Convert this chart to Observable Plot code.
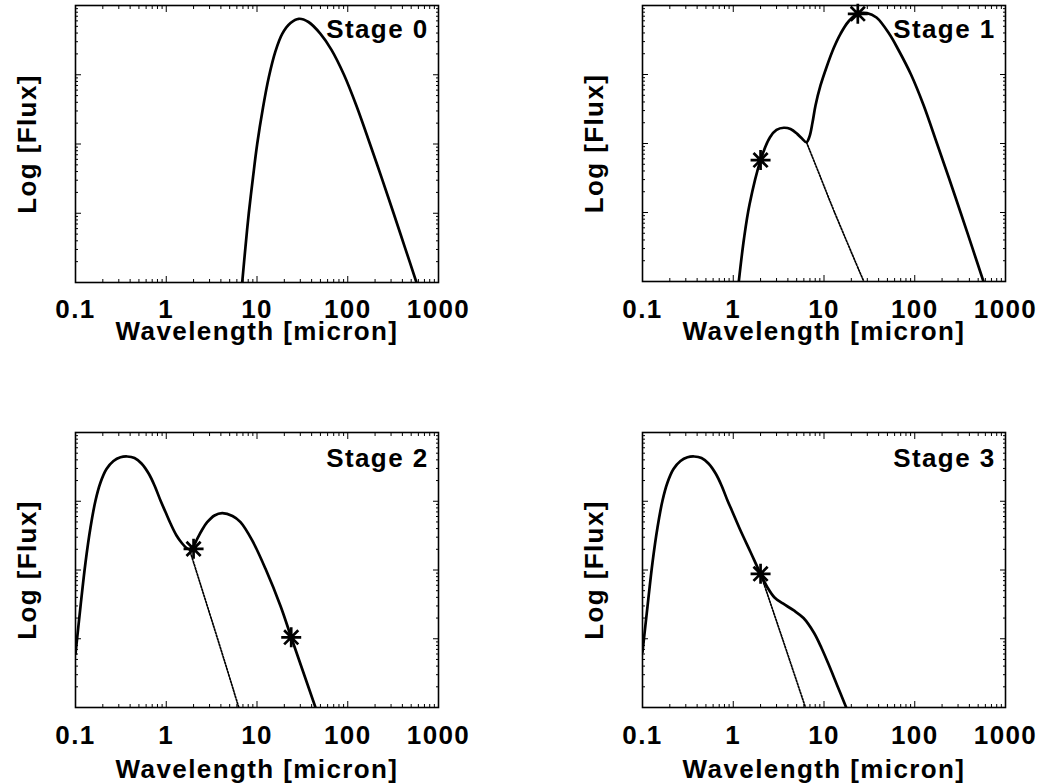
<!DOCTYPE html>
<html>
<head>
<meta charset="utf-8">
<script src="https://cdn.jsdelivr.net/npm/d3@7"></script>
<script src="https://cdn.jsdelivr.net/npm/@observablehq/plot@0.6"></script>
<style>
  html, body { margin: 0; padding: 0; background: #fff; }
  #chart { position: relative; width: 1041px; height: 784px; overflow: hidden; background: #fff; }
  #chart svg { position: absolute; }
  #chart svg text { letter-spacing: 1.4px; }
</style>
</head>
<body>
<div id="chart"></div>
<script>
// ---------- axis text and ticks ----------
const xTickValues = [0.1, 1, 10, 100, 1000];
const xTickLabels = ["0.1", "1", "10", "100", "1000"];
const xMinorTicks = [0.2,0.3,0.4,0.5,0.6,0.7,0.8,0.9, 2,3,4,5,6,7,8,9, 20,30,40,50,60,70,80,90, 200,300,400,500,600,700,800,900];
const yMajorTicks = [10, 100, 1000];
const yMinorTicks = [2,3,4,5,6,7,8,9, 20,30,40,50,60,70,80,90, 200,300,400,500,600,700,800,900, 2000,3000,4000,5000,6000,7000,8000,9000];
const xTitle = "Wavelength [micron]";
const yTitle = "Log [Flux]";
const stageLabels = ["Stage 0", "Stage 1", "Stage 2", "Stage 3"];

// ---------- Stage 0 ----------
const stage0Wave = [6.87, 7.47, 8.12, 9.03, 10.05, 11.65, 13.49, 15.99, 18.96, 23.39, 28.88, 36.94, 50.08, 66.2, 90.9, 124.9, 175.8, 237, 320, 428, 572];
const stage0Flux = [1, 3.31, 10, 32.8, 100, 337, 919, 2188, 3899, 5590, 6427, 5781, 3899, 2291, 1000, 354, 100, 32.1, 10, 3.17, 1];

// ---------- Stage 1 ----------
const stage1Wave = [1.151, 1.314, 1.511, 2.0, 2.541, 2.997, 3.606, 4.275, 5.067, 5.65, 6.414, 6.92, 7.47, 8.06, 9.15, 10.66, 12.73, 15.2, 18.62, 23.58, 29.77, 37.88, 52.3, 66.2, 90.9, 124.9, 175.8, 237, 320, 428, 572];
const stage1Flux = [1, 4.2, 13.06, 57.5, 123, 157, 169, 162, 138, 120, 104.4, 126, 201, 355, 693, 1276, 2382, 3890, 5866, 7586, 7762, 6699, 3890, 2265, 1000, 361, 100, 32.1, 10, 3.17, 1];
const stage1DotWave = [6.414, 9.15, 12.82, 27.46];
const stage1DotFlux = [104.4, 32.5, 10.7, 1];
const stage1StarWave = [2.0, 23.58];
const stage1StarFlux = [57.5, 7586];

// ---------- Stage 2 ----------
const stage2Wave = [0.1, 0.1135, 0.1289, 0.1463, 0.1662, 0.1886, 0.2196, 0.2622, 0.3131, 0.3712, 0.4468, 0.5337, 0.6423, 0.7423, 0.8641, 0.981, 1.114, 1.297, 1.499, 1.671, 1.804, 1.997, 2.193, 2.477, 2.827, 3.402, 4.136, 5.37, 6.58, 8.853, 12.41, 18.16, 23.82, 44.12];
const stage2Flux = [6.04, 29.4, 128.6, 415, 1026, 1875, 2944, 3850, 4359, 4477, 4256, 3540, 2508, 1694, 1026, 698, 475, 318, 243, 209, 199, 223, 284, 382, 496, 621, 670, 610, 496, 269, 104, 29.9, 10.5, 1];
const stage2DotWave = [1.804, 4.31, 6.3];
const stage2DotFlux = [199, 5.11, 1];
const stage2StarWave = [2.0, 23.82];
const stage2StarFlux = [203, 10.5];

// ---------- Stage 3 ----------
const stage3Wave = [0.1, 0.1135, 0.1289, 0.1463, 0.1662, 0.1886, 0.2196, 0.2622, 0.3131, 0.3712, 0.4468, 0.5337, 0.6423, 0.7423, 0.8641, 0.981, 1.202, 1.549, 1.997, 2.384, 2.848, 3.521, 4.647, 5.944, 7.72, 9.387, 11.29, 13.91, 17.57];
const stage3Flux = [6.4, 29.4, 128.6, 415, 1026, 1875, 2944, 3850, 4359, 4477, 4256, 3540, 2508, 1694, 1026, 698, 375, 183, 88.1, 55.6, 39.8, 32.6, 25.8, 20.0, 12.3, 7.34, 4.18, 2.13, 1];
const stage3DotWave = [1.997, 3.53, 6.25];
const stage3DotFlux = [88.1, 9.53, 1];
const stage3StarWave = [2.0];
const stage3StarFlux = [88.1];

// ---------- helpers ----------
const rows = (w, f) => w.map((x, i) => ({wave: x, flux: f[i]}));

const asterisk = {
  draw(context, size) {
    const r = Math.sqrt(size / Math.PI);
    for (let k = 0; k < 4; k++) {
      const a = k * Math.PI / 4;
      const dx = r * Math.cos(a), dy = r * Math.sin(a);
      context.moveTo(-dx, -dy);
      context.lineTo(dx, dy);
    }
  }
};

const FONT = "'Liberation Sans', Arial, Helvetica, sans-serif";

const panels = [
  {label: stageLabels[0], solid: rows(stage0Wave, stage0Flux), dotted: [], stars: [],
   left: 0, top: 0, width: 520, ml: 75, mr: 82, mt: 5, mb: 110, tickDy: 35, titleDy: 57, stageDy: 32},
  {label: stageLabels[1], solid: rows(stage1Wave, stage1Flux), dotted: rows(stage1DotWave, stage1DotFlux), stars: rows(stage1StarWave, stage1StarFlux),
   left: 520, top: 0, width: 521, ml: 122, mr: 36, mt: 5, mb: 111, tickDy: 36, titleDy: 58, stageDy: 32},
  {label: stageLabels[2], solid: rows(stage2Wave, stage2Flux), dotted: rows(stage2DotWave, stage2DotFlux), stars: rows(stage2StarWave, stage2StarFlux),
   left: 0, top: 392, width: 520, ml: 75, mr: 82, mt: 40, mb: 77, tickDy: 36, titleDy: 70, stageDy: 34},
  {label: stageLabels[3], solid: rows(stage3Wave, stage3Flux), dotted: rows(stage3DotWave, stage3DotFlux), stars: rows(stage3StarWave, stage3StarFlux),
   left: 520, top: 392, width: 521, ml: 122, mr: 36, mt: 40, mb: 77, tickDy: 36, titleDy: 70, stageDy: 34}
];

const chart = document.getElementById("chart");

for (const p of panels) {
  const blank = () => "";
  const svg = Plot.plot({
    width: p.width,
    height: 392,
    marginLeft: p.ml, marginRight: p.mr, marginTop: p.mt, marginBottom: p.mb,
    x: {type: "log", domain: [0.1, 1000]},
    y: {type: "log", domain: [1, 10000]},
    style: {fontFamily: FONT, background: "white", color: "black"},
    marks: [
      Plot.axisX({anchor: "bottom", ticks: xMinorTicks, tickSize: -3, tickFormat: blank, label: null, strokeWidth: 1}),
      Plot.axisX({anchor: "bottom", ticks: xTickValues, tickSize: -6, tickFormat: blank, label: null, strokeWidth: 1}),
      Plot.axisX({anchor: "top", ticks: xMinorTicks, tickSize: -3, tickFormat: blank, label: null, strokeWidth: 1}),
      Plot.axisX({anchor: "top", ticks: xTickValues, tickSize: -6, tickFormat: blank, label: null, strokeWidth: 1}),
      Plot.axisY({anchor: "left", ticks: yMinorTicks, tickSize: -3, tickFormat: blank, label: null, strokeWidth: 1}),
      Plot.axisY({anchor: "left", ticks: yMajorTicks, tickSize: -6, tickFormat: blank, label: null, strokeWidth: 1}),
      Plot.axisY({anchor: "right", ticks: yMinorTicks, tickSize: -3, tickFormat: blank, label: null, strokeWidth: 1}),
      Plot.axisY({anchor: "right", ticks: yMajorTicks, tickSize: -6, tickFormat: blank, label: null, strokeWidth: 1}),
      Plot.frame({stroke: "black", strokeWidth: 1.6}),
      Plot.line(p.dotted, {x: "wave", y: "flux", stroke: "black", strokeWidth: 1.7, strokeDasharray: "1.6,1.6", curve: "catmull-rom", clip: true}),
      Plot.line(p.solid, {x: "wave", y: "flux", stroke: "black", strokeWidth: 2.7, curve: "catmull-rom", clip: true}),
      Plot.dot(p.stars, {x: "wave", y: "flux", symbol: asterisk, r: 10, fill: "none", stroke: "black", strokeWidth: 2.7}),
      Plot.text(xTickValues, {x: d => d, text: (d, i) => xTickLabels[i], frameAnchor: "bottom", dy: p.tickDy, lineAnchor: "bottom", textAnchor: "middle", fontSize: 26, fontWeight: "bold", fill: "black"}),
      Plot.text([xTitle], {text: d => d, frameAnchor: "bottom", dy: p.titleDy, lineAnchor: "bottom", textAnchor: "middle", fontSize: 26, fontWeight: "bold", fill: "black"}),
      Plot.text([yTitle], {text: d => d, frameAnchor: "left", dx: -40, rotate: -90, lineAnchor: "bottom", textAnchor: "middle", fontSize: 26, fontWeight: "bold", fill: "black"}),
      Plot.text([p.label], {text: d => d, frameAnchor: "top-right", dx: -10, dy: p.stageDy, lineAnchor: "bottom", textAnchor: "end", fontSize: 26, fontWeight: "bold", fill: "black"})
    ]
  });
  svg.style.left = p.left + "px";
  svg.style.top = p.top + "px";
  chart.appendChild(svg);
}
</script>
</body>
</html>
